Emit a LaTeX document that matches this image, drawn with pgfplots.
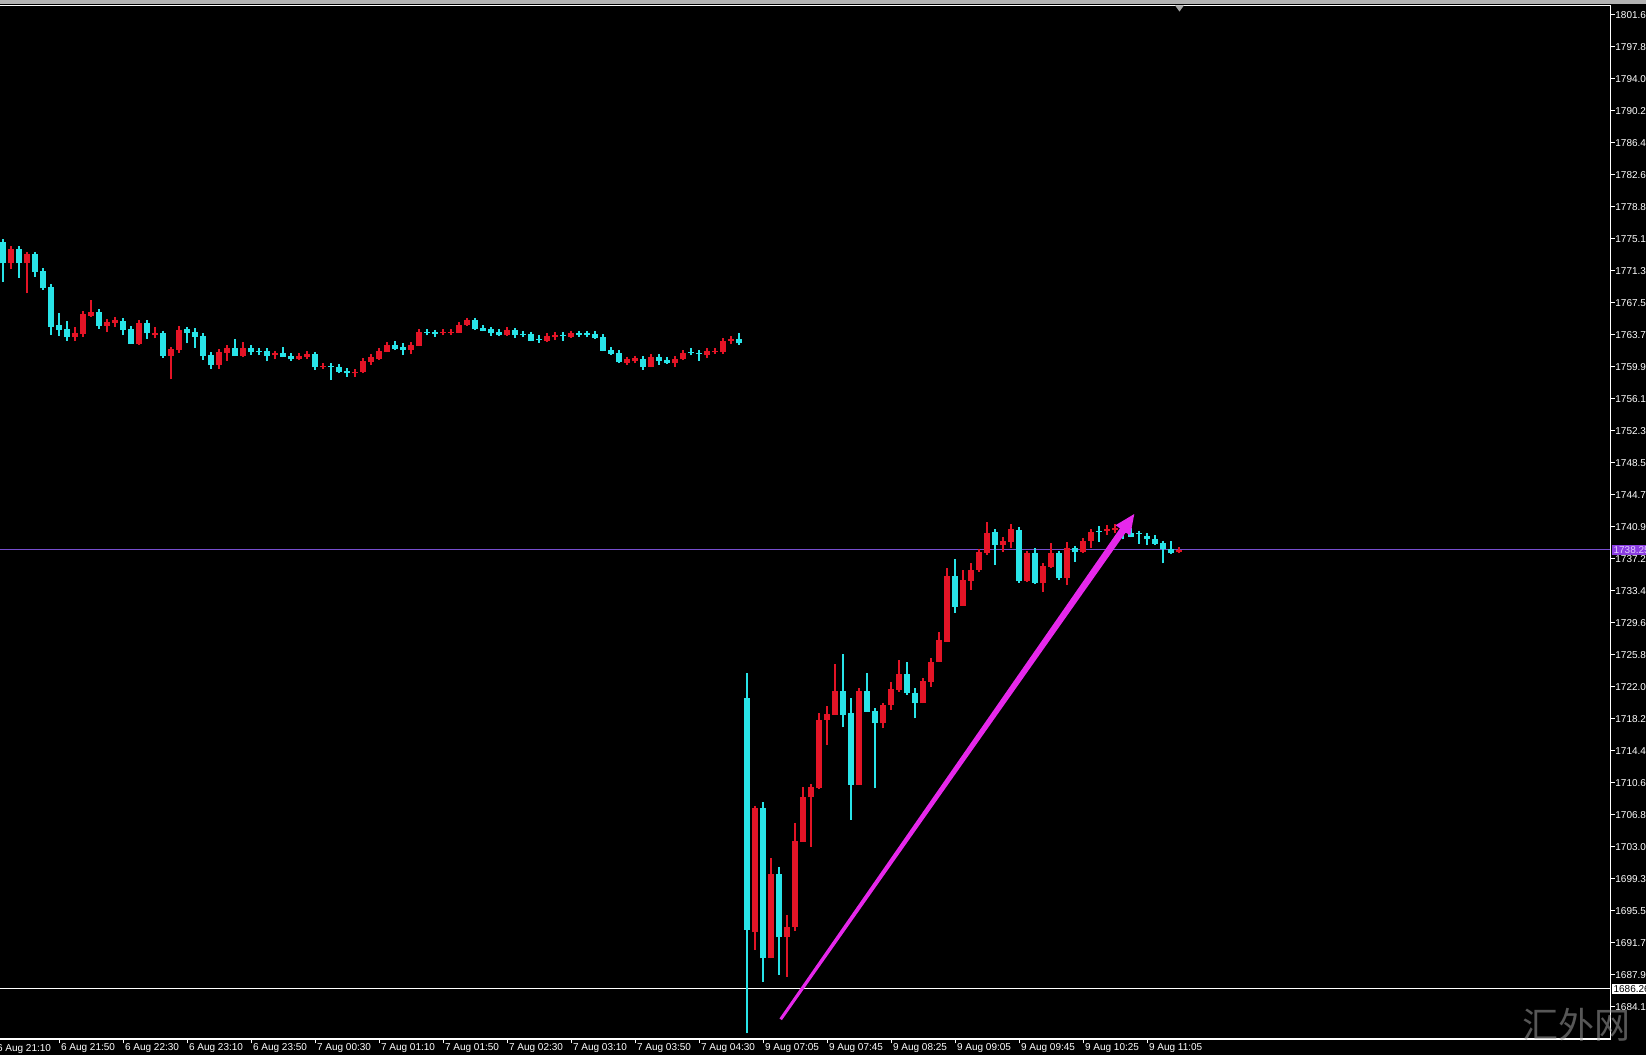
\documentclass[border=0pt]{standalone}
\usepackage{pgfplots}
\pgfplotsset{compat=1.18}
\usepackage{pgfplotstable}
\usepackage{fontspec}
\setmainfont{Liberation Sans}
\newfontfamily\cjk{Noto Sans CJK SC}
\definecolor{upc}{RGB}{228,20,38}
\definecolor{dnc}{RGB}{40,228,232}
\definecolor{lnpurple}{RGB}{118,78,205}
\definecolor{tagpurple}{RGB}{138,60,225}
\definecolor{tagtext}{RGB}{225,205,255}
\definecolor{arrowc}{RGB}{230,40,235}

% bearish (cyan) candles: index open high low close
\pgfplotstableread{
x O H L C
1 1774.74 1774.82 1770.01 1772.18
3 1773.88 1773.95 1770.48 1772.18
5 1773.24 1773.24 1770.60 1771.19
6 1771.31 1771.31 1769.02 1769.22
7 1769.38 1769.38 1763.69 1764.68
8 1764.87 1766.26 1763.57 1764.28
9 1764.40 1765.35 1763.02 1763.41
13 1766.45 1766.45 1764.44 1764.76
16 1765.39 1765.47 1763.69 1764.28
17 1764.44 1764.48 1762.62 1762.62
19 1765.15 1765.23 1763.26 1763.89
21 1763.89 1763.89 1761.00 1761.20
24 1764.36 1764.60 1762.70 1763.97
25 1764.05 1764.48 1762.19 1763.49
26 1763.57 1763.69 1760.73 1761.20
27 1761.32 1761.32 1759.70 1760.10
30 1762.15 1763.26 1761.20 1761.20
32 1762.15 1762.47 1761.36 1761.68
33 1761.84 1762.15 1761.28 1761.72
34 1761.80 1762.15 1760.57 1761.20
36 1761.52 1762.23 1761.04 1761.12
37 1761.24 1761.52 1760.65 1760.81
40 1761.40 1761.44 1759.55 1759.86
42 1760.06 1760.26 1758.36 1759.94
43 1759.94 1760.02 1759.15 1759.35
44 1759.47 1759.63 1758.76 1759.15
50 1762.51 1763.02 1761.91 1762.03
51 1762.31 1762.78 1761.32 1761.91
54 1764.07 1764.36 1763.65 1763.95
55 1764.01 1764.01 1763.49 1763.85
60 1765.43 1765.47 1764.28 1764.40
61 1764.52 1764.76 1764.13 1764.20
62 1764.36 1764.36 1763.61 1763.89
63 1764.05 1764.13 1763.57 1763.65
65 1764.24 1764.28 1763.37 1763.73
66 1763.83 1763.89 1763.49 1763.71
67 1763.77 1763.97 1762.94 1763.02
68 1763.20 1763.65 1762.78 1763.08
71 1763.75 1763.97 1763.02 1763.63
73 1763.87 1764.13 1763.49 1763.75
74 1763.87 1764.13 1763.41 1763.75
75 1763.81 1763.89 1763.26 1763.33
76 1763.45 1763.49 1761.76 1761.83
77 1761.91 1762.23 1761.36 1761.48
78 1761.56 1761.64 1760.37 1760.45
81 1760.85 1761.12 1759.55 1759.94
83 1761.12 1761.32 1760.18 1760.65
84 1760.73 1760.81 1760.26 1760.33
87 1761.70 1762.11 1761.28 1761.58
88 1761.60 1761.68 1760.65 1761.44
93 1763.18 1763.89 1762.51 1762.70
94 1720.66 1723.62 1680.98 1693.22
96 1707.63 1708.42 1687.10 1689.87
98 1699.86 1700.72 1687.89 1692.35
106 1721.57 1725.91 1717.23 1718.73
107 1718.88 1720.66 1706.25 1710.40
109 1721.57 1723.70 1719.08 1719.08
110 1719.16 1719.16 1710.00 1717.70
114 1723.54 1724.96 1721.06 1721.25
115 1721.25 1721.85 1718.29 1720.07
120 1735.15 1737.12 1730.81 1731.52
125 1740.36 1740.68 1736.45 1738.82
128 1740.60 1740.75 1734.36 1734.52
130 1737.83 1738.43 1734.20 1734.36
133 1737.83 1738.03 1734.67 1734.87
135 1738.43 1738.62 1736.85 1738.03
138 1740.50 1741.07 1739.22 1740.38
141 1740.68 1740.79 1739.49 1740.20
142 1740.20 1740.79 1739.73 1739.81
143 1740.22 1740.28 1738.94 1740.10
144 1739.89 1739.89 1738.82 1739.49
145 1739.57 1740.00 1738.82 1738.94
146 1739.02 1739.02 1736.65 1738.31
147 1738.35 1739.33 1737.75 1737.83
}\downtab

% bullish (red) candles: index open high low close
\pgfplotstableread{
x O H L C
2 1772.18 1774.15 1771.47 1773.88
4 1772.18 1773.36 1768.63 1773.24
10 1763.41 1764.68 1763.02 1763.89
11 1763.81 1766.26 1763.49 1766.18
12 1765.98 1767.84 1765.86 1766.45
14 1764.76 1765.23 1764.09 1765.23
15 1765.15 1765.78 1764.68 1765.47
18 1762.62 1765.23 1762.51 1765.15
20 1763.69 1764.68 1763.30 1763.97
22 1761.20 1762.31 1758.44 1761.99
23 1761.91 1764.76 1761.60 1764.28
28 1760.10 1761.72 1759.70 1761.68
29 1761.60 1762.15 1760.65 1762.15
31 1761.20 1762.86 1761.04 1762.15
35 1761.28 1761.76 1760.81 1761.52
38 1760.81 1761.52 1760.73 1761.24
39 1761.12 1761.84 1760.89 1761.44
41 1759.86 1760.34 1759.78 1760.02
45 1759.15 1759.55 1758.76 1759.35
46 1759.31 1760.97 1759.15 1760.57
47 1760.53 1761.32 1760.14 1761.12
48 1760.85 1761.91 1760.73 1761.80
49 1761.72 1762.51 1761.64 1762.51
52 1761.91 1762.70 1761.44 1762.51
53 1762.43 1764.28 1762.39 1764.09
56 1763.97 1764.36 1763.69 1764.07
57 1763.97 1764.36 1763.73 1764.09
58 1763.97 1765.07 1763.89 1764.87
59 1764.83 1765.47 1764.76 1765.43
64 1763.65 1764.36 1763.61 1764.28
69 1763.02 1763.81 1762.86 1763.57
70 1763.41 1763.89 1763.10 1763.69
72 1763.49 1764.01 1763.37 1763.89
79 1760.41 1761.12 1760.14 1760.81
80 1760.57 1761.12 1760.33 1760.93
82 1759.94 1761.20 1759.86 1761.12
85 1760.33 1760.93 1759.94 1760.85
86 1760.81 1761.80 1760.73 1761.60
89 1761.32 1761.91 1760.93 1761.80
90 1761.68 1761.99 1761.44 1761.80
91 1761.72 1763.10 1761.44 1762.98
92 1763.02 1763.41 1762.63 1763.22
95 1693.03 1707.63 1690.85 1707.63
97 1689.87 1701.71 1689.87 1699.86
99 1692.35 1695.00 1687.70 1693.54
100 1693.54 1705.94 1693.14 1703.76
101 1703.69 1710.20 1703.69 1708.94
102 1708.94 1710.20 1703.09 1710.20
103 1710.08 1718.88 1709.88 1718.09
104 1718.09 1719.75 1715.13 1718.81
105 1718.73 1724.73 1718.73 1721.57
108 1710.40 1721.57 1710.40 1721.57
111 1717.70 1719.83 1717.11 1719.83
112 1719.83 1722.63 1719.28 1721.77
113 1721.65 1725.20 1721.45 1723.54
116 1720.07 1722.83 1720.07 1722.75
117 1722.63 1725.40 1722.04 1725.00
118 1725.00 1728.56 1725.00 1727.57
119 1727.37 1736.06 1727.37 1735.15
121 1731.60 1735.86 1731.60 1734.67
122 1734.60 1736.73 1733.49 1735.86
123 1735.86 1738.03 1735.66 1738.03
124 1737.91 1741.58 1737.64 1740.28
126 1738.82 1739.81 1738.03 1739.29
127 1739.22 1741.31 1738.43 1740.72
129 1734.60 1737.83 1734.48 1737.83
131 1734.36 1736.33 1733.29 1736.33
132 1736.25 1739.10 1736.06 1737.83
134 1734.87 1739.22 1734.08 1738.43
136 1738.03 1739.41 1737.83 1739.33
137 1739.33 1740.40 1738.43 1740.40
139 1740.48 1741.19 1740.00 1740.68
140 1740.60 1741.31 1740.20 1740.83
148 1737.95 1738.31 1737.83 1738.23
}\uptab

\newcommand{\lblfont}{\fontsize{5}{6}\selectfont}

\begin{document}
\begin{tikzpicture}
\useasboundingbox (0,0) rectangle (823pt,527.5pt);
\fill[black] (0,0) rectangle (823pt,527.5pt);
\fill[gray!60] (0,525.5pt) rectangle (823pt,527.5pt);
\begin{axis}[
  at={(0pt,8pt)}, anchor=south west,
  width=805.3pt, height=516.75pt, scale only axis,
  xmin=0.6125, xmax=201.94, ymin=1680.31, ymax=1802.72,
  clip=false,
  axis line style={draw=none},
  xtick={8,16,...,144},
  xticklabels={6 Aug 21:50, 6 Aug 22:30, 6 Aug 23:10, 6 Aug 23:50, 7 Aug 00:30, 7 Aug 01:10, 7 Aug 01:50, 7 Aug 02:30, 7 Aug 03:10, 7 Aug 03:50, 7 Aug 04:30, 9 Aug 07:05, 9 Aug 07:45, 9 Aug 08:25, 9 Aug 09:05, 9 Aug 09:45, 9 Aug 10:25, 9 Aug 11:05},
  ytick={1684.14,1687.93,1691.72,1695.51,1699.30,1703.09,1706.88,1710.67,1714.46,1718.25,1722.04,1725.83,1729.62,1733.41,1737.20,1740.99,1744.78,1748.57,1752.36,1756.15,1759.94,1763.73,1767.52,1771.31,1775.10,1778.89,1782.68,1786.47,1790.26,1794.05,1797.84,1801.63},
  xtick pos=bottom, ytick pos=right, yticklabel pos=right,
  tick align=outside,
  major tick length=2.2pt,
  tick style={white, line width=0.5pt},
  ticklabel style={font=\lblfont, text=white},
  xticklabel style={anchor=north west, inner sep=0pt, xshift=0.8pt},
  yticklabel style={anchor=west, inner sep=0pt},
  candle/.style={draw=none, mark=none, forget plot},
  /pgf/number format/.cd, fixed, fixed zerofill, precision=2, 1000 sep={}, assume math mode=true
]
% horizontal price lines
\draw[lnpurple, line width=0.5pt] (axis cs:0.6125,1738.25) -- (axis cs:201.94,1738.25);
\draw[white, line width=0.5pt] (axis cs:0.6125,1686.26) -- (axis cs:201.94,1686.26);

% wicks
\addplot[candle, error bars/.cd, y dir=plus, y explicit, error mark=none,
  error bar style={draw=dnc, line width=0.6pt}]
  table[x=x, y=L, y error expr=\thisrow{H}-\thisrow{L}] {\downtab};
\addplot[candle, error bars/.cd, y dir=plus, y explicit, error mark=none,
  error bar style={draw=upc, line width=0.6pt}]
  table[x=x, y=L, y error expr=\thisrow{H}-\thisrow{L}] {\uptab};
% bodies
\addplot[candle, error bars/.cd, y dir=plus, y explicit, error mark=-,
  error mark options={draw=dnc, line width=0.7pt, mark size=1.3pt},
  error bar style={draw=dnc, line width=2.6pt}]
  table[x=x, y=C, y error expr=\thisrow{O}-\thisrow{C}] {\downtab};
\addplot[candle, error bars/.cd, y dir=plus, y explicit, error mark=-,
  error mark options={draw=upc, line width=0.7pt, mark size=1.3pt},
  error bar style={draw=upc, line width=2.6pt}]
  table[x=x, y=O, y error expr=\thisrow{C}-\thisrow{O}] {\uptab};

% annotation arrow
\fill[arrowc] (axis cs:98.35,1682.54) -- (axis cs:141.33,1740.31) -- (axis cs:141.89,1739.94)
  -- (axis cs:142.40,1742.49) -- (axis cs:140.05,1741.16) -- (axis cs:140.61,1740.79)
  -- (axis cs:98.05,1682.75) -- cycle;

% frame
\draw[white, line width=0.6pt] (rel axis cs:0,0) -- (rel axis cs:1,0) -- (rel axis cs:1,1) -- (rel axis cs:0,1);
% chart shift marker
\fill[gray!70] (axis cs:147.5,1802.72) -- (axis cs:148.6,1802.72) -- (axis cs:148.05,1802.0) -- cycle;
% price tags
\node[anchor=west, fill=tagpurple, text=tagtext, inner xsep=0.8pt, inner ysep=0.7pt, font=\lblfont, xshift=0.5pt] at (axis cs:201.94,1738.25) {1738.25};
\node[anchor=west, fill=white, text=black, inner xsep=0.8pt, inner ysep=0.7pt, font=\lblfont, xshift=0.5pt] at (axis cs:201.94,1686.26) {1686.26};
% first, cut-off time label
\node[anchor=north west, inner sep=0pt, font=\lblfont, text=white, xshift=0.8pt, yshift=-2.6pt] at (axis cs:0,1680.31) {6 Aug 21:10};
\end{axis}
\node[text=gray!75, opacity=0.55, font=\cjk\fontsize{18}{18}\selectfont] at (788pt,15pt) {汇外网};
\end{tikzpicture}
\end{document}
